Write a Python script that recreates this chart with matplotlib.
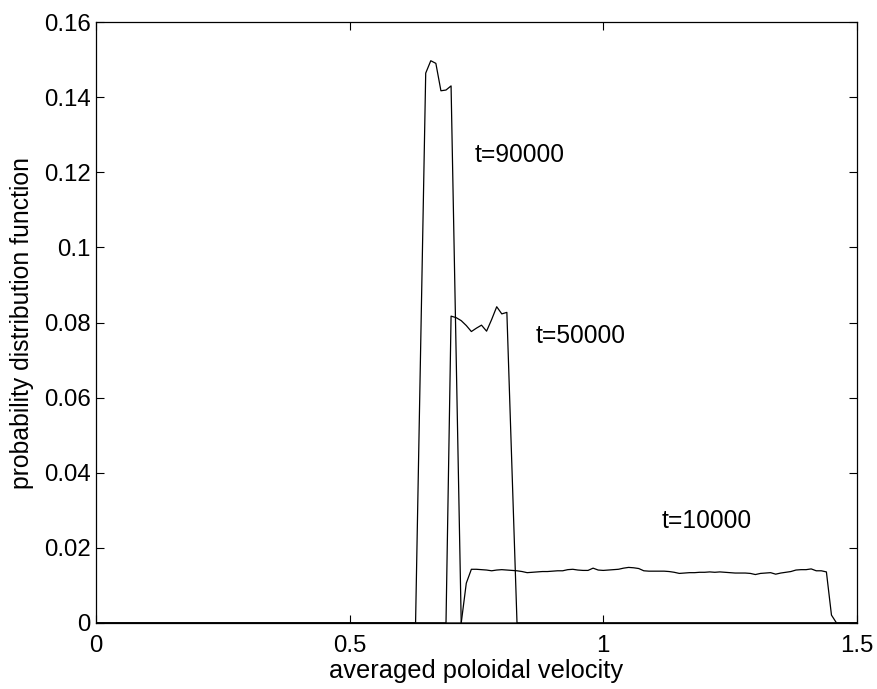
import numpy as np
import matplotlib.pyplot as plt
from matplotlib.ticker import FuncFormatter

plt.rcParams['font.family'] = ['Liberation Sans', 'DejaVu Sans']

# t=90000
x_90000 = [0.0, 0.63, 0.65, 0.66, 0.67, 0.68, 0.69, 0.70, 0.72, 1.5]
pdf_90000 = [0.0, 0.0, 0.1464, 0.1497, 0.1490, 0.1417, 0.1419, 0.1430, 0.0, 0.0]

# t=50000
x_50000 = [0.0, 0.69, 0.70, 0.71, 0.72, 0.73, 0.74, 0.75, 0.76, 0.77, 0.78,
           0.79, 0.80, 0.81, 0.83, 1.5]
pdf_50000 = [0.0, 0.0, 0.0817, 0.0813, 0.0805, 0.0792, 0.0776, 0.0785, 0.0793,
             0.0777, 0.0808, 0.0842, 0.0823, 0.0827, 0.0, 0.0]

# t=10000
x_10000 = [0.0, 0.72, 0.73, 0.74, 0.75, 0.76, 0.77, 0.78, 0.79, 0.80, 0.81,
           0.82, 0.83, 0.84, 0.85, 0.86, 0.87, 0.88, 0.89, 0.90, 0.91, 0.92,
           0.93, 0.94, 0.95, 0.96, 0.97, 0.98, 0.99, 1.00, 1.01, 1.02, 1.03,
           1.04, 1.05, 1.06, 1.07, 1.08, 1.09, 1.10, 1.11, 1.12, 1.13, 1.14,
           1.15, 1.16, 1.17, 1.18, 1.19, 1.20, 1.21, 1.22, 1.23, 1.24, 1.25,
           1.26, 1.27, 1.28, 1.29, 1.30, 1.31, 1.32, 1.33, 1.34, 1.35, 1.36,
           1.37, 1.38, 1.39, 1.40, 1.41, 1.42, 1.43, 1.44, 1.45, 1.46, 1.5]
pdf_10000 = [0.0, 0.0, 0.0106, 0.0143, 0.0143, 0.0142, 0.0141, 0.0139, 0.0141,
             0.0142, 0.0141, 0.0140, 0.0139, 0.0137, 0.0134, 0.0135, 0.0136,
             0.0137, 0.0137, 0.0138, 0.0139, 0.0139, 0.0142, 0.0143, 0.0141,
             0.0140, 0.0140, 0.0146, 0.0141, 0.0140, 0.0141, 0.0142, 0.0143,
             0.0146, 0.0148, 0.0147, 0.0145, 0.0139, 0.0138, 0.0138, 0.0138,
             0.0138, 0.0137, 0.0135, 0.0132, 0.0133, 0.0134, 0.0134, 0.0135,
             0.0135, 0.0136, 0.0135, 0.0136, 0.0135, 0.0134, 0.0133, 0.0133,
             0.0133, 0.0132, 0.0129, 0.0132, 0.0133, 0.0134, 0.0130, 0.0133,
             0.0135, 0.0137, 0.0141, 0.0142, 0.0142, 0.0144, 0.0139, 0.0139,
             0.0136, 0.0021, 0.0, 0.0]

labels = ['t=90000', 't=50000', 't=10000']
label_pos = [(0.747, 0.1246), (0.867, 0.0764), (1.116, 0.0272)]

x_ticks = [0, 0.5, 1, 1.5]
y_ticks = [0, 0.02, 0.04, 0.06, 0.08, 0.1, 0.12, 0.14, 0.16]

fig = plt.figure(figsize=(8.77, 6.89), dpi=100)
ax = fig.add_axes([0.1095, 0.0958, 0.8675, 0.8722])

for xs, ys in [(x_90000, pdf_90000), (x_50000, pdf_50000), (x_10000, pdf_10000)]:
    ax.plot(xs, ys, color='black', linewidth=0.9)

for lab, (lx, ly) in zip(labels, label_pos):
    ax.text(lx, ly, lab, fontsize=17.7, va='center', ha='left')

ax.set_xlim(0, 1.5)
ax.set_ylim(0, 0.16)
ax.set_xticks(x_ticks)
ax.set_yticks(y_ticks)
fmt = FuncFormatter(lambda v, p: '%g' % v)
ax.xaxis.set_major_formatter(fmt)
ax.yaxis.set_major_formatter(fmt)
ax.tick_params(direction='in', top=True, right=True, length=6, width=0.8,
               labelsize=17.3)
ax.tick_params(axis='x', pad=9)
ax.tick_params(axis='y', pad=4)
for s in ax.spines.values():
    s.set_linewidth(0.9)

ax.set_xlabel('averaged poloidal velocity', fontsize=18.3, labelpad=1)
ax.set_ylabel('probability distribution function', fontsize=17.8, labelpad=7)

fig.savefig('out.png', dpi=100)
